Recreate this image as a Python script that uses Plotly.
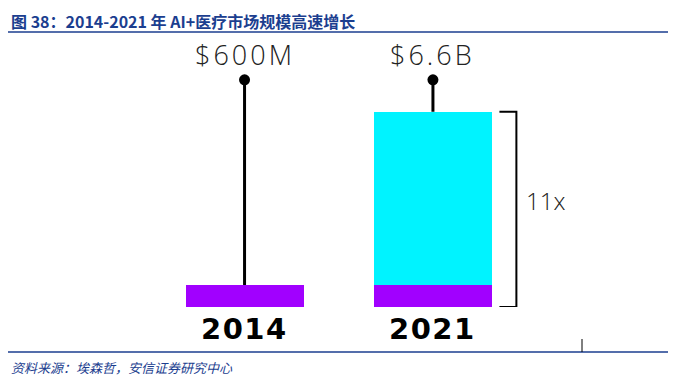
import plotly.graph_objects as go

# ---- data ----
years = ["2014", "2021"]
value_labels = ["$600M", "$6.6B"]
base_segment = [0.6, 0.6]      # purple (2014 market size, bar height as drawn)
growth_segment = [0.0, 4.72]   # cyan (growth to 2021, as drawn)
stem_top = 6.19                # lollipop head height (axis units)
label_level = 6.87
multiple_label = "11x"
title_text = "图 38：2014-2021 年 AI+医疗市场规模高速增长"
source_text = "资料来源：埃森哲，安信证券研究中心"

PURPLE = "#A100FF"
CYAN = "#00F3FF"
NAVY = "#1B3E8F"

OFF = 8  # page body margin
W, H = 676 - OFF, 384 - OFF
L, R, T, B = 75 - OFF, 17, 40 - OFF, 77
PW, PH = W - L - R, H - T - B

def px(x):  # reference-page pixel x -> paper
    return (x - OFF - L) / PW

def py(y):  # reference-page pixel y -> paper
    return (H - B - (y - OFF)) / PH

xs = list(range(len(years)))
totals = [b + g for b, g in zip(base_segment, growth_segment)]

fig = go.Figure()
fig.add_bar(x=xs, y=base_segment, marker=dict(color=PURPLE, line=dict(width=0)),
            width=0.626, hoverinfo="skip")
fig.add_bar(x=xs, y=growth_segment, marker=dict(color=CYAN, line=dict(width=0)),
            width=0.626, hoverinfo="skip")

for i, t in zip(xs, totals):
    fig.add_scatter(x=[i, i], y=[t, stem_top], mode="lines",
                    line=dict(color="black", width=3), hoverinfo="skip")
fig.add_scatter(x=xs, y=[stem_top] * len(xs), mode="markers",
                marker=dict(color="black", size=11), hoverinfo="skip")

for i, lab in zip(xs, value_labels):
    fig.add_annotation(x=i, y=label_level, showarrow=False,
                       text='<span style="letter-spacing:3px">' + lab + '</span>',
                       xanchor="center", yanchor="middle",
                       font=dict(family="Open Sans", size=27, color="#222222", weight=300))
    fig.add_annotation(x=i, y=py(329), yref="paper", showarrow=False,
                       text='<span style="letter-spacing:1.5px"><b>' + years[i] + '</b></span>',
                       xanchor="center", yanchor="middle",
                       font=dict(family="DejaVu Sans", size=29, color="black"))

# bracket showing growth multiple for 2021
bx0, bx1 = 1.353, 1.443
top = totals[1]
fig.add_shape(type="path", xref="x", yref="y",
              path=f"M {bx0},{top} L {bx1},{top} L {bx1},0 L {bx0},0",
              line=dict(color="black", width=2))
fig.add_annotation(x=1.6, y=top / 2 + 0.25, text=multiple_label, showarrow=False,
                   xanchor="center", yanchor="middle",
                   font=dict(family="Open Sans", size=24, color="#222222", weight=300))

# title, rules, footer
fig.add_annotation(x=px(10), y=py(21), xref="paper", yref="paper", text="<b>" + title_text + "</b>",
                   showarrow=False, xanchor="left", yanchor="middle", borderpad=0,
                   font=dict(family="Noto Sans CJK SC", size=16, color=NAVY))
fig.add_shape(type="line", xref="paper", yref="paper", x0=px(5), x1=px(676), y0=py(32), y1=py(32),
              line=dict(color=NAVY, width=1.5))
fig.add_shape(type="line", xref="paper", yref="paper", x0=px(5), x1=px(676), y0=py(352), y1=py(352),
              line=dict(color=NAVY, width=1.5))
fig.add_shape(type="line", xref="paper", yref="paper", x0=px(582), x1=px(582), y0=py(339), y1=py(352),
              line=dict(color="black", width=1))
fig.add_annotation(x=px(10), y=py(367), xref="paper", yref="paper", text="<i>" + source_text + "</i>",
                   showarrow=False, xanchor="left", yanchor="middle", borderpad=0,
                   font=dict(family="Noto Sans CJK SC", size=13, color=NAVY))

fig.update_layout(
    width=W, height=H, margin=dict(l=L, r=R, t=T, b=B),
    barmode="stack", showlegend=False, bargap=0,
    plot_bgcolor="white", paper_bgcolor="white",
    xaxis=dict(range=[-0.9, 2.2], visible=False),
    yaxis=dict(range=[0, PH / 36.7], visible=False),
)
fig.write_html("out.html")
